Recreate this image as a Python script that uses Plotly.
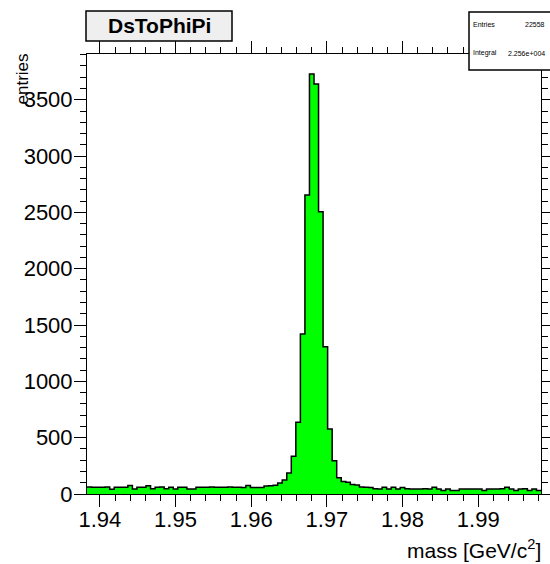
import numpy as np
import plotly.graph_objects as go

# ---- data -------------------------------------------------------------
TITLE = "DsToPhiPi"
X_TITLE = "mass [GeV/c<sup>2</sup>]"
Y_TITLE = "entries"
X_MIN, X_MAX, N_BINS = 1.9383, 1.9983, 100
STAT_LABELS = ["Entries", "Integral"]
STAT_VALUES = ["22558", "2.256e+004"]

counts = [
    62, 60, 61, 60, 62, 42, 60, 61, 60, 76,
    44, 60, 61, 74, 46, 60, 62, 46, 61, 45,
    60, 61, 44, 45, 60, 61, 60, 62, 60, 61,
    60, 62, 60, 61, 58, 76, 58, 57, 58, 72,
    74, 78, 98, 124, 186, 335, 637, 1420, 2654, 3728,
    3640, 2506, 1308, 578, 295, 145, 110, 105, 84, 80,
    62, 60, 58, 46, 44, 60, 45, 60, 45, 58,
    46, 44, 45, 44, 46, 44, 60, 44, 30, 44,
    30, 32, 44, 45, 44, 45, 44, 30, 44, 45,
    44, 46, 60, 44, 30, 44, 46, 30, 44, 30,
]
Y_MAX = 3906

# ---- figure -----------------------------------------------------------
W, H = 550, 564
ML, MR, MT, MB = 87, 9, 54, 70
PW, PH = W - ML - MR, H - MT - MB

def px(x):
    return (x - ML) / PW

def py(y):
    return (H - MB - y) / PH

edges = np.linspace(X_MIN, X_MAX, N_BINS + 1)
yvals = list(counts) + [counts[-1]]

fig = go.Figure()
fig.add_trace(go.Scatter(
    x=edges, y=yvals, mode="lines", line_shape="hv",
    line=dict(color="black", width=1.5),
    fill="tozeroy", fillcolor="#00ff00",
    hoverinfo="skip", showlegend=False,
))

FONT = "Liberation Sans, Arial, Helvetica, sans-serif"
axis_common = dict(
    showline=True, linecolor="black", linewidth=1, mirror="ticks",
    ticks="outside", ticklen=12, tickwidth=1, tickcolor="black",
    showgrid=False, zeroline=False,
    tickfont=dict(family=FONT, size=22, color="black"),
)
fig.update_xaxes(range=[X_MIN, X_MAX], tick0=1.94, dtick=0.01, tickformat=".2f",
                 ticklabelstandoff=-6,
                 minor=dict(dtick=0.002, ticklen=6, ticks="outside",
                            tickcolor="black", showgrid=False),
                 **axis_common)
fig.update_yaxes(range=[0, Y_MAX], tick0=0, dtick=500,
                 ticklabelstandoff=-3,
                 minor=dict(dtick=100, ticklen=6, ticks="outside",
                            tickcolor="black", showgrid=False),
                 **axis_common)

shapes = [
    dict(type="rect", xref="paper", yref="paper",
         x0=px(86), x1=px(232), y0=py(41), y1=py(11),
         fillcolor="#efefef", line=dict(color="black", width=1.5)),
    dict(type="rect", xref="paper", yref="paper",
         x0=px(469), x1=px(556), y0=py(70), y1=py(12),
         fillcolor="white", line=dict(color="black", width=1.5)),
]
annotations = [
    dict(text="<b>%s</b>" % TITLE, xref="paper", yref="paper",
         x=px(159), y=py(26), xanchor="center", yanchor="middle",
         showarrow=False, font=dict(family=FONT, size=21, color="black")),
    dict(text=Y_TITLE, xref="paper", yref="paper", textangle=-90,
         x=px(22), y=py(52), xanchor="center", yanchor="top",
         showarrow=False, font=dict(family=FONT, size=17, color="black")),
    dict(text=X_TITLE, xref="paper", yref="paper",
         x=px(543), y=py(549), xanchor="right", yanchor="middle",
         showarrow=False, font=dict(family=FONT, size=21, color="black")),
]
for i, (lab, val) in enumerate(zip(STAT_LABELS, STAT_VALUES)):
    yy = 25 + i * 28
    annotations.append(dict(text=lab, xref="paper", yref="paper",
                            x=px(471), y=py(yy), xanchor="left", yanchor="middle",
                            showarrow=False, font=dict(family=FONT, size=7, color="black")))
    annotations.append(dict(text=val, xref="paper", yref="paper",
                            x=px(547), y=py(yy), xanchor="right", yanchor="middle",
                            showarrow=False, font=dict(family=FONT, size=7, color="black")))

fig.update_layout(
    width=W, height=H, margin=dict(l=ML, r=MR, t=MT, b=MB, autoexpand=False),
    paper_bgcolor="white", plot_bgcolor="white",
    shapes=shapes, annotations=annotations, showlegend=False,
)
fig.write_html("out.html", config={"displayModeBar": False},
               post_script="document.body.style.margin='0';")
